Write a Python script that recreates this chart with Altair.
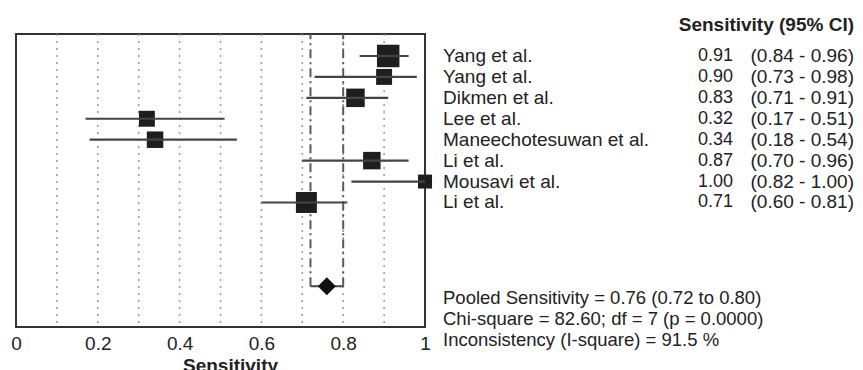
import altair as alt
import pandas as pd

# ---- data ----
studies = ["Yang et al.", "Yang et al.", "Dikmen et al.", "Lee et al.",
           "Maneechotesuwan et al.", "Li et al.", "Mousavi et al.", "Li et al."]
sens = [0.91, 0.90, 0.83, 0.32, 0.34, 0.87, 1.00, 0.71]
ci_lo = [0.84, 0.73, 0.71, 0.17, 0.18, 0.70, 0.82, 0.60]
ci_hi = [0.96, 0.98, 0.91, 0.51, 0.54, 0.96, 1.00, 0.81]
weights = [19.7, 9.9, 13.3, 9.9, 10.6, 11.9, 7.6, 17.1]   # study weights (%)

pooled = 0.76
pooled_lo = 0.72
pooled_hi = 0.80
pooled_row = 11

grid_x = [0.1, 0.2, 0.3, 0.4, 0.5, 0.6, 0.7, 0.8, 0.9]
tick_values = [0, 0.2, 0.4, 0.6, 0.8, 1]

header = "Sensitivity (95% CI)"
stats = ["Pooled Sensitivity = 0.76 (0.72 to 0.80)",
         "Chi-square = 82.60; df =  7 (p = 0.0000)",
         "Inconsistency (I-square) = 91.5 %"]

# ---- tables ----
df = pd.DataFrame({
    "study": studies, "sens": sens, "lo": ci_lo, "hi": ci_hi, "w": weights,
    "row": list(range(len(studies))),
})
df["est"] = [f"{v:.2f}" for v in sens]
df["ci"] = [f"({a:.2f} - {b:.2f})" for a, b in zip(ci_lo, ci_hi)]

pool_df = pd.DataFrame({"x": [pooled], "lo": [pooled_lo], "hi": [pooled_hi], "row": [pooled_row]})
vline_df = pd.DataFrame({"x": [pooled_lo, pooled_hi], "row": [pooled_row, pooled_row]})
grid_df = pd.DataFrame({"x": grid_x})

FONT = "Liberation Sans"
FS = 19
TXT = "#222222"

xscale = alt.Scale(domain=[0, 1], nice=False, zero=False)
xaxis = alt.Axis(values=tick_values, format="~g", ticks=False, domain=False, grid=False,
                 labelFlush=False, labelFont=FONT, labelFontSize=FS, labelColor=TXT,
                 labelPadding=7, title="Sensitivity", titleFont=FONT, titleFontSize=FS,
                 titleFontWeight="bold", titleColor=TXT, titlePadding=3,
                 titleX=214, titleAlign="center", labelOverlap=False)
yscale = alt.Scale(domain=[-1.05, 12.95], reverse=True, nice=False, zero=False)


def X(field):
    return alt.X(field, type="quantitative", scale=xscale, axis=xaxis, title="Sensitivity")


def Y(field):
    return alt.Y(field, type="quantitative", scale=yscale, axis=None)


grid = alt.Chart(grid_df).mark_rule(color="#9a9a9a", strokeWidth=1.5, strokeDash=[2, 5]).encode(
    x=X("x"))

vlines = alt.Chart(vline_df).mark_rule(color="#5a5a5a", strokeWidth=2, strokeDash=[9, 4, 2, 4]).encode(
    x=X("x"), y=Y("row"), y2=alt.value(0))

bracket = alt.Chart(pool_df).mark_rule(color="#444444", strokeWidth=2).encode(
    x=X("lo"), x2="hi", y=Y("row"))

diamond = alt.Chart(pool_df).mark_point(shape="diamond", filled=True, color="#111111",
                                        opacity=1, size=324).encode(x=X("x"), y=Y("row"))

squares = alt.Chart(df).mark_square(color="#1e1e1e", opacity=1).encode(
    x=X("sens"), y=Y("row"),
    size=alt.Size("w:Q", scale=alt.Scale(domain=[0, 20], range=[0, 514]), legend=None))

ci_lines = alt.Chart(df).mark_rule(color="#444444", strokeWidth=2.2).encode(
    x=X("lo"), x2="hi", y=Y("row"))

names = alt.Chart(df).mark_text(align="left", baseline="middle", font=FONT, fontSize=19,
                                color=TXT).encode(x=alt.value(427), y=Y("row"), text="study:N")
ests = alt.Chart(df).mark_text(align="right", baseline="middle", font=FONT, fontSize=18,
                               color=TXT).encode(x=alt.value(717), y=Y("row"), text="est:N")
cis = alt.Chart(df).mark_text(align="right", baseline="middle", font=FONT, fontSize=19,
                              color=TXT).encode(x=alt.value(838), y=Y("row"), text="ci:N")

head = alt.Chart(pd.DataFrame({"t": [header]})).mark_text(
    align="right", baseline="middle", font=FONT, fontSize=19, fontWeight="bold", color=TXT
).encode(x=alt.value(838), y=alt.value(-9), text="t:N")

stat_layers = []
for i, s in enumerate(stats):
    stat_layers.append(
        alt.Chart(pd.DataFrame({"t": [s]})).mark_text(
            align="left", baseline="middle", font=FONT, fontSize=18.5, color=TXT
        ).encode(x=alt.value(427), y=alt.value(264 + 21 * i), text="t:N")
    )

chart = alt.layer(grid, vlines, bracket, diamond, squares, ci_lines, names, ests, cis, head,
                  *stat_layers).properties(
    width=409, height=293,
    padding={"left": 8, "top": 26, "right": 430, "bottom": 43},
    autosize=alt.AutoSizeParams(type="none"),
    background="white",
).configure_view(stroke="#333333", strokeWidth=2)

chart.save("out.html", embed_options={"renderer": "svg", "actions": False})
